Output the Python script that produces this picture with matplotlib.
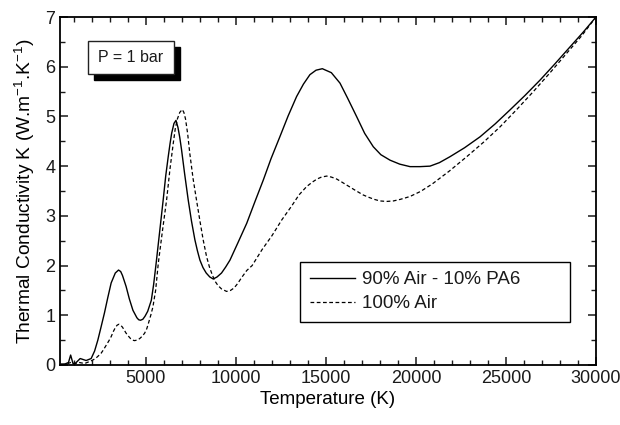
import matplotlib
matplotlib.use("Agg")
import matplotlib.pyplot as plt
from matplotlib.patches import Rectangle

# 90% Air - 10% PA6
t_mix = [300, 500, 700, 820, 950, 1100, 1350, 1680, 1960, 2150, 2330, 2500, 2700,
         2880, 3070, 3300, 3480, 3600, 3700, 3900, 4080, 4280, 4500, 4600, 4700,
         4830, 4950, 5100, 5300, 5430, 5570, 5770, 5960, 6100, 6240, 6340, 6430,
         6560, 6670, 6780, 6880, 6980, 7150, 7350, 7530, 7720, 7860, 8000, 8170,
         8350, 8550, 8740, 8950, 9200, 9430, 9670, 10100, 10600, 11050, 11520,
         11950, 12440, 12900, 13370, 13750, 14110, 14450, 14800, 15300, 15780,
         16200, 16700, 17150, 17630, 18050, 18560, 19100, 19670, 20220, 20780,
         21300, 21890, 22700, 23560, 24400, 25220, 26050, 26890, 27700, 28560,
         29300, 30000]
k_mix = [0.02, 0.02, 0.05, 0.20, 0.03, 0.04, 0.13, 0.09, 0.13, 0.28, 0.50, 0.75, 1.05,
         1.35, 1.65, 1.85, 1.91, 1.88, 1.80, 1.58, 1.33, 1.10, 0.95, 0.91, 0.90,
         0.92, 0.98, 1.08, 1.30, 1.62, 2.05, 2.70, 3.32, 3.80, 4.19, 4.45, 4.66,
         4.86, 4.92, 4.78, 4.58, 4.33, 3.85, 3.32, 2.90, 2.52, 2.30, 2.11, 1.96,
         1.85, 1.77, 1.73, 1.77, 1.85, 1.97, 2.11, 2.45, 2.85, 3.28, 3.72,
         4.15, 4.59, 5.01, 5.40, 5.65, 5.84, 5.93, 5.96, 5.88, 5.67,
         5.37, 5.00, 4.66, 4.39, 4.23, 4.12, 4.04, 3.99, 3.99, 4.00,
         4.07, 4.19, 4.37, 4.59, 4.85, 5.13, 5.42, 5.73, 6.05, 6.40,
         6.70, 7.00]

# 100% Air
t_air = [300, 600, 820, 1000, 1300, 1600, 1870, 2000, 2200, 2350, 2520, 2650, 2800,
         2950, 3070, 3200, 3300, 3400, 3500, 3600, 3700, 3800, 3900, 4030, 4150,
         4260, 4370, 4500, 4650, 4800, 4930, 5050, 5150, 5270, 5390, 5540, 5690,
         5920, 6150, 6340, 6520, 6630, 6750, 6880, 7020, 7110, 7200, 7320, 7440,
         7620, 7810, 8000, 8180, 8370, 8530, 8700, 8850, 9000, 9200, 9480, 9700,
         9900, 10100, 10300, 10600, 10900, 11450, 12000, 12550, 13100, 13500,
         13930, 14250, 14500, 14750, 15040, 15300, 15600, 15880, 16150, 16600,
         17070, 17400, 17700, 18000, 18370, 18750, 19110, 19400, 19670, 20250,
         20900, 21850, 22820, 23750, 24670, 25600, 26520, 27450, 28370, 29200, 30000]
k_air = [0.00, 0.02, 0.05, 0.02, 0.05, 0.03, 0.07, 0.09, 0.13, 0.18, 0.24, 0.31, 0.40,
         0.49, 0.57, 0.68, 0.75, 0.80, 0.82, 0.80, 0.76, 0.70, 0.64, 0.58, 0.53,
         0.50, 0.49, 0.50, 0.53, 0.58, 0.64, 0.73, 0.85, 1.00, 1.17, 1.50, 2.05,
         2.70, 3.32, 3.95, 4.46, 4.75, 4.95, 5.08, 5.14, 5.08, 4.95, 4.65, 4.25,
         3.75, 3.32, 2.90, 2.52, 2.18, 1.97, 1.80, 1.68, 1.60, 1.53, 1.48, 1.50,
         1.55, 1.64, 1.75, 1.90, 2.00, 2.32, 2.60, 2.92, 3.20, 3.42,
         3.59, 3.68, 3.74, 3.78, 3.80, 3.78, 3.74, 3.68, 3.62, 3.52,
         3.42, 3.37, 3.33, 3.30, 3.29, 3.30, 3.33, 3.36, 3.39, 3.49,
         3.64, 3.90, 4.19, 4.48, 4.79, 5.14, 5.50, 5.88, 6.27, 6.62, 7.00]

plt.rcParams.update({"font.family": ["Liberation Sans", "DejaVu Sans"],
                     "mathtext.default": "regular", "font.size": 13,
                     "text.color": "#1a1a1a"})

fig = plt.figure(figsize=(6.2, 4.25), dpi=100)
ax = fig.add_axes([0.0968, 0.1412, 0.8645, 0.8188])

ax.plot(t_mix, k_mix, color="black", lw=1.0, label="90% Air - 10% PA6")
ax.plot(t_air, k_air, color="black", lw=0.9, ls=(0, (3, 2)), label="100% Air")

ax.set_xlim(230, 30000); ax.set_ylim(0, 7)
ax.set_xticks(range(5000, 30001, 5000))
ax.set_xticks(range(1000, 30001, 1000), minor=True)
ax.set_yticks(range(0, 8))
ax.set_yticks([i + 0.5 for i in range(7)], minor=True)
ax.tick_params(which="both", direction="in", top=True, right=True, labelsize=13,
               colors="#1a1a1a")
ax.tick_params(which="major", length=6, width=1.1)
ax.tick_params(which="minor", length=3.5, width=1.0)
for s in ax.spines.values():
    s.set_linewidth(1.3)

ax.set_xlabel("Temperature (K)", fontsize=13.5, labelpad=3)
ax.set_ylabel("Thermal Conductivity K (W.m$^{-1}$.K$^{-1}$)", fontsize=13.8, labelpad=6)

# P = 1 bar box with black shadow
bx, by, bw, bh = 0.0522, 0.836, 0.1605, 0.095
ax.add_patch(Rectangle((bx + 0.0112, by - 0.0172), bw, bh, transform=ax.transAxes,
                       facecolor="black", edgecolor="black", zorder=4))
ax.add_patch(Rectangle((bx, by), bw, bh, transform=ax.transAxes,
                       facecolor="white", edgecolor="#222222", lw=1.0, zorder=5))
ax.text(bx + bw / 2, by + bh / 2, "P = 1 bar", transform=ax.transAxes,
        ha="center", va="center", fontsize=11.5, zorder=6)

leg = ax.legend(loc="upper left", bbox_to_anchor=(0.448, 0.118, 0.503, 0.178),
                mode="expand", borderaxespad=0, fancybox=False, framealpha=1,
                edgecolor="black", handlelength=2.4, handletextpad=0.4,
                labelspacing=0.35, borderpad=0.5, fontsize=13.5)
leg.get_frame().set_linewidth(1.0)

fig.savefig("out.png", dpi=100)
